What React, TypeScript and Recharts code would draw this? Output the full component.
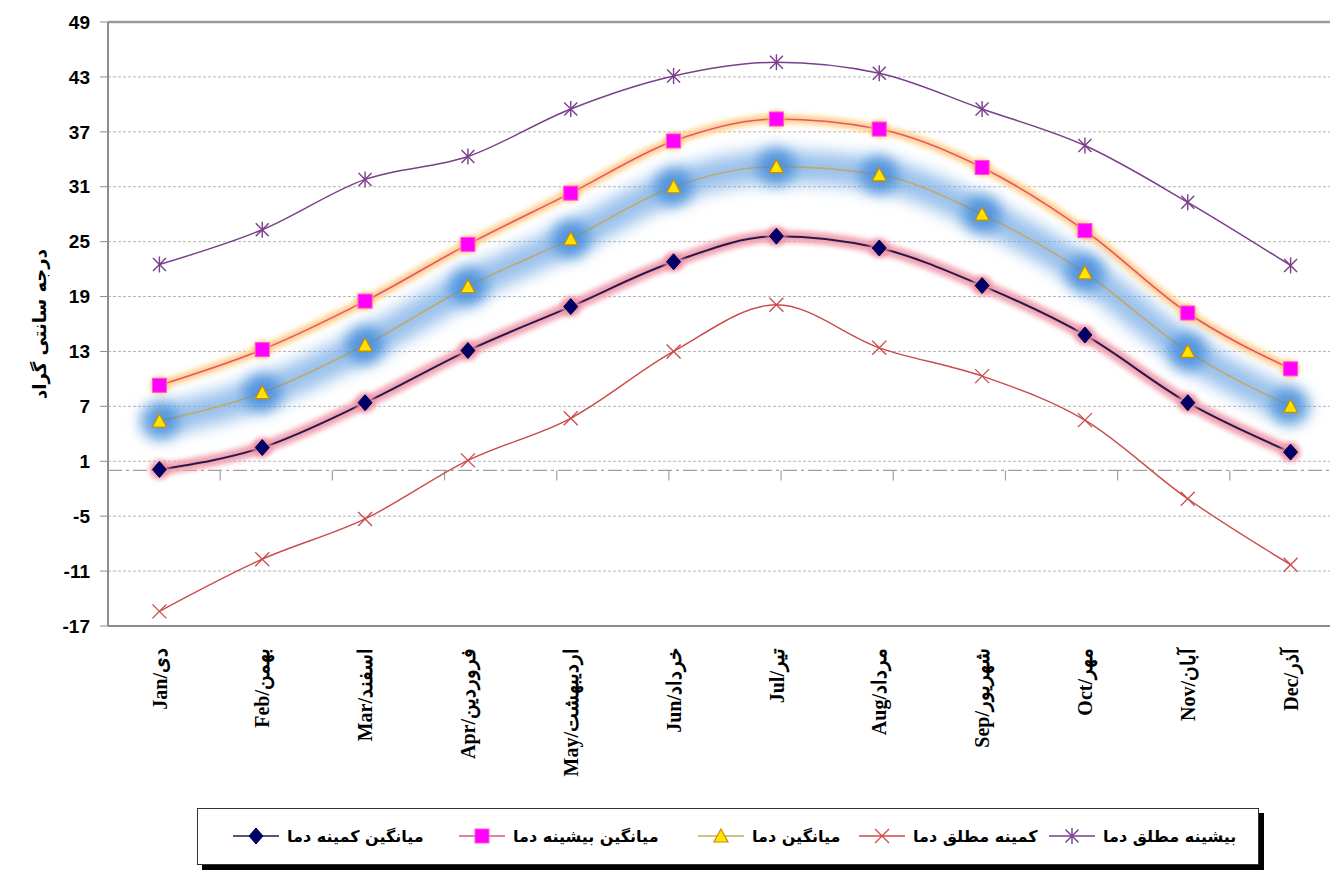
import React from 'react';
import { LineChart, Line, XAxis, YAxis, CartesianGrid, ReferenceLine, Legend } from 'recharts';

const months = ['Jan/دی', 'Feb/بهمن', 'Mar/اسفند', 'Apr/فروردین', 'May/اردیبهشت', 'Jun/خرداد', 'Jul/تیر', 'Aug/مرداد', 'Sep/شهریور', 'Oct/مهر', 'Nov/آبان', 'Dec/آذر'];
const absMax = [22.5, 26.3, 31.8, 34.3, 39.5, 43.1, 44.6, 43.4, 39.5, 35.5, 29.3, 22.4];
const meanMax = [9.3, 13.2, 18.5, 24.7, 30.3, 36.0, 38.4, 37.3, 33.1, 26.2, 17.2, 11.1];
const meanT = [5.4, 8.5, 13.7, 20.1, 25.3, 31.0, 33.2, 32.3, 28.0, 21.6, 13.0, 7.0];
const meanMin = [0.1, 2.5, 7.4, 13.1, 17.9, 22.8, 25.6, 24.3, 20.2, 14.8, 7.4, 2.0];
const absMin = [-15.4, -9.7, -5.3, 1.1, 5.7, 13.0, 18.1, 13.4, 10.3, 5.5, -3.1, -10.3];
const yTicks = [-17, -11, -5, 1, 7, 13, 19, 25, 31, 37, 43, 49];
const boundaries = [1, 2, 3, 4, 5, 6, 7, 8, 9, 10, 11];
const yLabel = 'درجه سانتی گراد';
const legendLabels = ['میانگین کمینه دما', 'میانگین بیشینه دما', 'میانگین دما', 'کمینه مطلق دما', 'بیشینه مطلق دما'];

const data = months.map((m, i) => ({
  month: m,
  absMax: absMax[i],
  meanMax: meanMax[i],
  meanT: meanT[i],
  meanMin: meanMin[i],
  absMin: absMin[i],
}));

const C_ABSMAX = '#7a3f8c';
const C_MEANMAX_LINE = '#e8507a';
const C_MEAN_LINE = '#c4a86a';
const C_MEANMIN_LINE = '#241a4e';
const C_ABSMIN = '#cc4a4a';

const persianFont = "'DejaVu Sans', Tahoma, sans-serif";

type MP = { cx?: number; cy?: number; index?: number; key?: string };

const starShape = (cx: number, cy: number, k?: string | number) => (
  <g key={k} stroke={C_ABSMAX} strokeWidth={1.4}>
    <line x1={cx} y1={cy - 8} x2={cx} y2={cy + 8} />
    <line x1={cx - 6.5} y1={cy - 6.5} x2={cx + 6.5} y2={cy + 6.5} />
    <line x1={cx - 6.5} y1={cy + 6.5} x2={cx + 6.5} y2={cy - 6.5} />
  </g>
);
const squareShape = (cx: number, cy: number, k?: string | number) => (
  <rect key={k} x={cx - 7} y={cy - 7} width={14} height={14} fill="#ff00ff" stroke="#ff55cc" strokeWidth={1} />
);
const triShape = (cx: number, cy: number, k?: string | number) => (
  <path key={k} d={`M${cx},${cy - 7} L${cx + 7},${cy + 6} L${cx - 7},${cy + 6} Z`} fill="#ffe600" stroke="#d08a00" strokeWidth={1.2} />
);
const diamondShape = (cx: number, cy: number, k?: string | number) => (
  <path key={k} d={`M${cx},${cy - 8} L${cx + 7},${cy} L${cx},${cy + 8} L${cx - 7},${cy} Z`} fill="#000066" stroke="#000050" strokeWidth={1} />
);
const xShape = (cx: number, cy: number, k?: string | number) => (
  <g key={k} stroke={C_ABSMIN} strokeWidth={1.3}>
    <line x1={cx - 7} y1={cy - 7} x2={cx + 7} y2={cy + 7} />
    <line x1={cx - 7} y1={cy + 7} x2={cx + 7} y2={cy - 7} />
  </g>
);

const mk = (fn: (cx: number, cy: number, k?: string | number) => React.ReactElement) => (p: MP) =>
  fn(p.cx ?? 0, p.cy ?? 0, p.key ?? `d${p.index}`);

const blob = (r: number, fill: string, filterId: string, op: number) => (p: MP) => (
  <circle key={p.key ?? `b${p.index}`} cx={p.cx} cy={p.cy} r={r} fill={fill} fillOpacity={op} filter={`url(#${filterId})`} />
);

const XTick = (props: any) => {
  const { x, y, payload } = props;
  return (
    <text
      x={x}
      y={y}
      transform={`rotate(-90 ${x} ${y})`}
      textAnchor="end"
      dy="0.36em"
      fill="#000"
      style={{ fontFamily: "'Liberation Serif', 'Times New Roman', serif", fontWeight: 700, fontSize: 20 }}
    >
      {payload.value}
    </text>
  );
};

const YLabel = (props: any) => {
  const vb = props.viewBox || { x: 0, y: 0, width: 0, height: 0 };
  const cx = vb.x + 39;
  const cy = vb.y + vb.height / 2;
  return (
    <text
      x={cx}
      y={cy}
      transform={`rotate(-90 ${cx} ${cy})`}
      textAnchor="middle"
      dominantBaseline="central"
      fill="#000"
      style={{ fontFamily: persianFont, fontWeight: 700, fontSize: 18 }}
    >
      {yLabel}
    </text>
  );
};

const legendIcons = [
  { color: C_MEANMIN_LINE, shape: diamondShape },
  { color: C_MEANMAX_LINE, shape: squareShape },
  { color: C_MEAN_LINE, shape: triShape },
  { color: C_ABSMIN, shape: xShape },
  { color: C_ABSMAX, shape: starShape },
];
const legendLefts = [35, 261, 500, 661, 851];

const renderLegend = () => (
  <div
    style={{
      position: 'relative',
      width: 1062,
      height: 57,
      border: '1.5px solid #333',
      boxShadow: '5px 5px 0 #000',
      background: '#fff',
      boxSizing: 'border-box',
    }}
  >
    {legendLabels.map((lab, i) => (
      <div
        key={lab}
        style={{
          position: 'absolute',
          left: legendLefts[i],
          top: 0,
          height: 54,
          display: 'flex',
          alignItems: 'center',
          whiteSpace: 'nowrap',
        }}
      >
        <svg width={46} height={20} style={{ display: 'block' }}>
          <line x1={0} y1={10} x2={46} y2={10} stroke={legendIcons[i].color} strokeWidth={1.6} />
          {legendIcons[i].shape(23, 10)}
        </svg>
        <span
          style={{
            marginLeft: 8,
            fontFamily: persianFont,
            fontWeight: 700,
            fontSize: 16,
            color: '#000',
          }}
        >
          {lab}
        </span>
      </div>
    ))}
  </div>
);

export default function App() {
  return (
    <div
      style={{
        position: 'absolute',
        left: 0,
        top: 0,
        width: 1330,
        height: 875,
        overflow: 'hidden',
        background: '#fff',
      }}
    >
      <style>{`
        .glow-blue .recharts-line-curve { filter: url(#glowBlue); }
        .glow-soft .recharts-line-curve { filter: url(#glowSoft); }
      `}</style>
      <svg width={0} height={0} style={{ position: 'absolute' }}>
        <defs>
          <filter id="glowBlue" x="-10%" y="-30%" width="120%" height="160%">
            <feGaussianBlur stdDeviation="8" />
          </filter>
          <filter id="blobBlue" x="-100%" y="-100%" width="300%" height="300%">
            <feGaussianBlur stdDeviation="7" />
          </filter>
          <filter id="glowSoft" x="-10%" y="-20%" width="120%" height="140%">
            <feGaussianBlur stdDeviation="2.5" />
          </filter>
          <filter id="blobSoft" x="-100%" y="-100%" width="300%" height="300%">
            <feGaussianBlur stdDeviation="2.5" />
          </filter>
        </defs>
      </svg>
      <LineChart width={1342} height={875} data={data} margin={{ top: 22, right: 0, left: 0, bottom: 0 }}>
        <CartesianGrid vertical={false} stroke="#b5b5b5" strokeDasharray="3 2" />
        <XAxis
          dataKey="month"
          scale="band"
          interval={0}
          tickLine={false}
          axisLine={{ stroke: '#8c8c8c', strokeWidth: 2 }}
          height={249}
          tickMargin={16}
          tick={<XTick />}
        />
        <XAxis xAxisId="num" type="number" domain={[0, 12]} hide />
        <YAxis
          domain={[-17, 49]}
          ticks={yTicks}
          interval={0}
          width={108}
          tickSize={8}
          tickMargin={10}
          axisLine={{ stroke: '#8c8c8c', strokeWidth: 2 }}
          tickLine={{ stroke: '#8c8c8c' }}
          tick={{ fill: '#000', fontSize: 19, fontWeight: 700, fontFamily: "'Liberation Sans', Arial, sans-serif" }}
          label={{ content: <YLabel /> }}
        />
        <ReferenceLine y={49} stroke="#9a9a9a" strokeWidth={2.5} />
        <ReferenceLine y={0} stroke="#a0a0a0" strokeWidth={1.2} strokeDasharray="14 4 3 4" />
        {boundaries.map((b) => (
          <ReferenceLine
            key={`tb${b}`}
            xAxisId="num"
            segment={[{ x: b, y: 0 }, { x: b, y: -1.1 }]}
            stroke="#a0a0a0"
            strokeWidth={1.2}
            ifOverflow="visible"
          />
        ))}

        {/* glows */}
        <Line
          className="glow-blue"
          dataKey="meanT"
          type="monotone"
          stroke="#78aee6"
          strokeWidth={32}
          strokeOpacity={0.75}
          dot={blob(19, '#3f8ad8', 'blobBlue', 0.8)}
          activeDot={false}
          legendType="none"
          isAnimationActive={false}
        />
        <Line
          className="glow-soft"
          dataKey="meanMin"
          type="monotone"
          stroke="#f2a2b0"
          strokeWidth={12}
          dot={blob(10, '#ee8fa2', 'blobSoft', 0.9)}
          activeDot={false}
          legendType="none"
          isAnimationActive={false}
        />
        <Line
          className="glow-soft"
          dataKey="meanMax"
          type="monotone"
          stroke="#ffd08a"
          strokeWidth={9}
          dot={blob(9, '#ffc070', 'blobSoft', 0.9)}
          activeDot={false}
          legendType="none"
          isAnimationActive={false}
        />

        {/* main series */}
        <Line dataKey="absMax" type="monotone" stroke={C_ABSMAX} strokeWidth={1.5} dot={mk(starShape)} activeDot={false} isAnimationActive={false} />
        <Line dataKey="absMin" type="monotone" stroke={C_ABSMIN} strokeWidth={1.4} dot={mk(xShape)} activeDot={false} isAnimationActive={false} />
        <Line dataKey="meanT" type="monotone" stroke={C_MEAN_LINE} strokeWidth={1.6} dot={mk(triShape)} activeDot={false} isAnimationActive={false} />
        <Line dataKey="meanMin" type="monotone" stroke={C_MEANMIN_LINE} strokeWidth={2} dot={mk(diamondShape)} activeDot={false} isAnimationActive={false} />
        <Line dataKey="meanMax" type="monotone" stroke={C_MEANMAX_LINE} strokeWidth={1.6} dot={mk(squareShape)} activeDot={false} isAnimationActive={false} />

        <Legend
          layout="horizontal"
          verticalAlign="middle"
          align="center"
          content={renderLegend}
          wrapperStyle={{ left: 197, top: 808, width: 1067, height: 62 }}
        />
      </LineChart>
    </div>
  );
}
